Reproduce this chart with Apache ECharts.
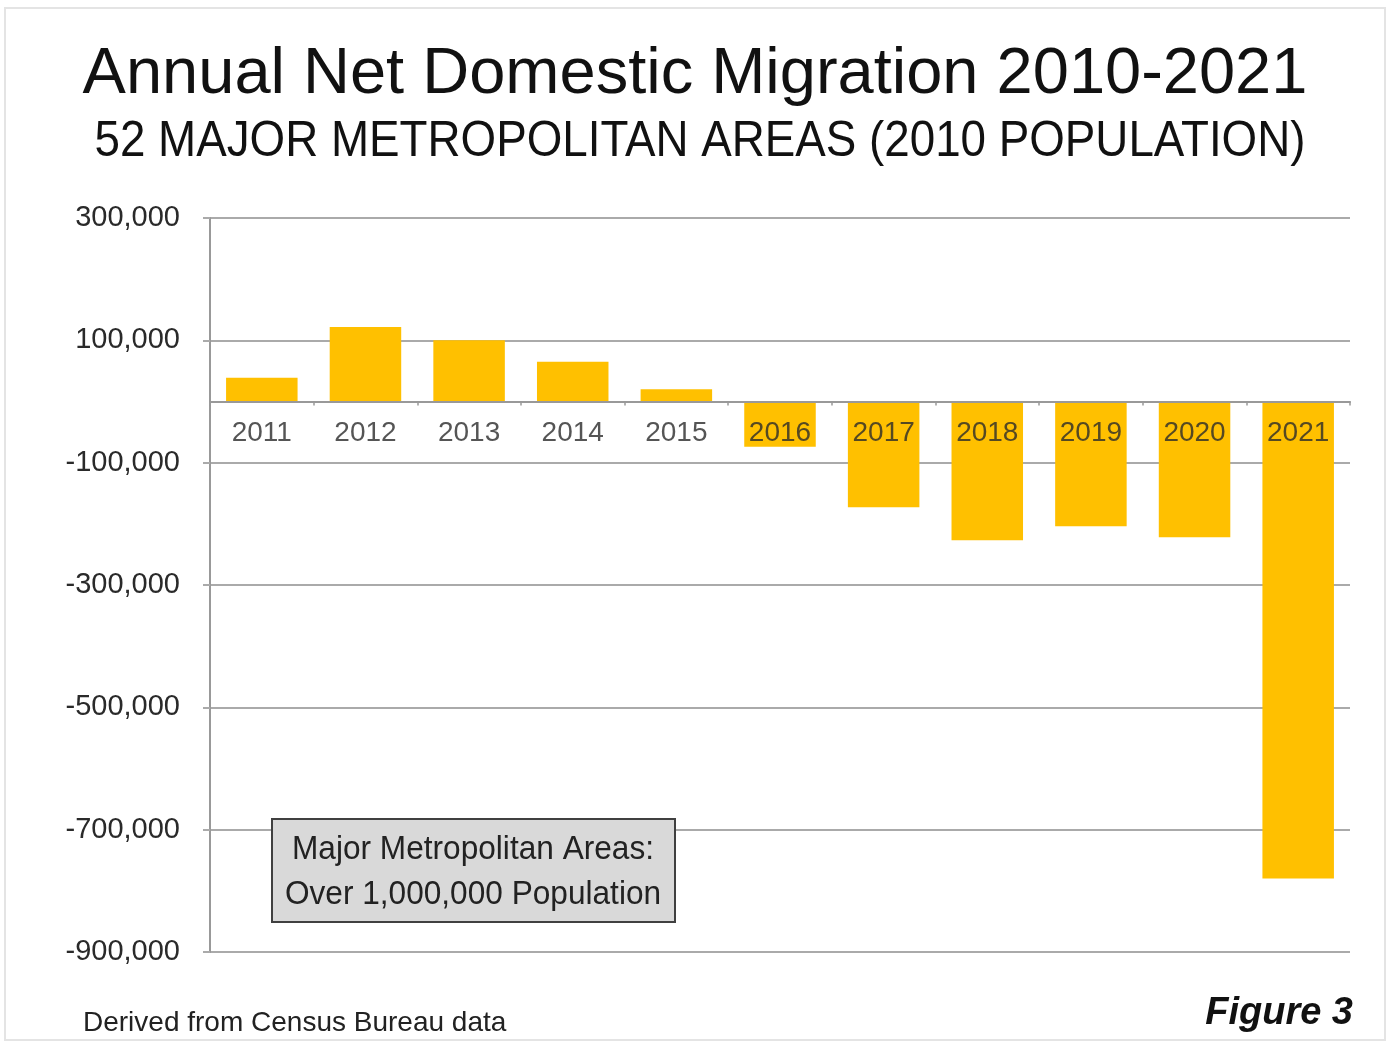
<!DOCTYPE html>
<html>
<head>
<meta charset="utf-8">
<script src="https://cdn.jsdelivr.net/npm/echarts@6/dist/echarts.min.js"></script>
<style>
  html, body { margin: 0; padding: 0; background: #fff; }
  #chart { width: 1390px; height: 1045px; }
</style>
</head>
<body>
<div id="chart"></div>
<script>
// Net domestic migration, 52 major metropolitan areas
const years = ['2011', '2012', '2013', '2014', '2015', '2016', '2017', '2018', '2019', '2020', '2021'];
const netMigration = [39000, 122000, 100000, 65000, 20000, -74000, -173000, -227000, -204000, -222000, -780000];
const yTicks = [-900000, -700000, -500000, -300000, -100000, 100000, 300000];

const SANS = '"Liberation Sans", Arial, sans-serif';

const fmt = v => (v < 0 ? '-' : '') + Math.abs(v).toLocaleString('en-US');

const chart = echarts.init(document.getElementById('chart'));
chart.setOption({
  backgroundColor: '#ffffff',
  animation: false,
  title: [
    {
      text: 'Annual Net Domestic Migration 2010-2021',
      left: 'center', top: 38,
      textStyle: { fontFamily: SANS, fontSize: 65, fontWeight: 'normal', color: '#111' }
    },
    {
      text: 'Derived from Census Bureau data',
      left: 78, top: 1004,
      textStyle: { fontFamily: SANS, fontSize: 28, fontWeight: 'normal', color: '#222' }
    },
    {
      text: 'Figure 3',
      right: 32, top: 990,
      textStyle: { fontFamily: SANS, fontSize: 38, fontWeight: 'bold', fontStyle: 'italic', color: '#111' }
    }
  ],
  grid: { left: 210, right: 40, top: 218, bottom: 93 },
  xAxis: {
    type: 'category',
    data: years,
    axisLine: { onZero: true, lineStyle: { color: '#999', width: 2 } },
    axisTick: { show: true, length: 4, lineStyle: { color: '#999', width: 1.5 } },
    axisLabel: { show: false },
    z: 5
  },
  yAxis: {
    type: 'value',
    min: -900000,
    max: 300000,
    axisLine: { show: true, lineStyle: { color: '#999', width: 2 } },
    axisTick: { show: true, length: 7, customValues: yTicks, lineStyle: { color: '#aaa', width: 2 } },
    axisLabel: {
      customValues: yTicks,
      margin: 30,
      fontFamily: SANS, fontSize: 29, color: '#2a2a2a',
      formatter: v => fmt(v)
    },
    splitLine: { show: true, lineStyle: { color: '#aaa', width: 2 } }
  },
  series: [
    {
      type: 'bar',
      data: netMigration,
      barCategoryGap: '31%',
      itemStyle: { color: '#FFC000' },
      z: 2
    },
    {
      // year labels sitting just under the zero baseline
      type: 'scatter',
      data: years.map(y => [y, 0]),
      symbolSize: 1,
      itemStyle: { color: 'rgba(0,0,0,0)' },
      silent: true,
      z: 6,
      label: {
        show: true,
        position: 'bottom',
        distance: 17,
        formatter: p => p.value[0],
        fontFamily: SANS, fontSize: 28, color: '#2a2a2a'
      }
    }
  ],
  graphic: [
    {
      type: 'rect',
      shape: { x: 5, y: 8, width: 1380, height: 1032 },
      style: { fill: 'none', stroke: '#e4e4e4', lineWidth: 2 },
      silent: true
    },
    {
      type: 'text',
      x: 700, y: 142,
      scaleX: 0.915,
      style: {
        text: '52 MAJOR METROPOLITAN AREAS (2010 POPULATION)',
        fontFamily: SANS, fontSize: 50, fill: '#111',
        align: 'center', verticalAlign: 'middle'
      }
    },
    {
      type: 'rect',
      shape: { x: 272, y: 819, width: 403, height: 103 },
      style: { fill: '#d9d9d9', stroke: '#404040', lineWidth: 2 },
      z: 10
    },
    {
      type: 'text',
      x: 473, y: 872,
      scaleX: 0.93,
      style: {
        text: 'Major Metropolitan Areas:\nOver 1,000,000 Population',
        fontFamily: SANS, fontSize: 34, fill: '#222',
        align: 'center', verticalAlign: 'middle', lineHeight: 45
      },
      z: 11
    }
  ]
});
</script>
</body>
</html>
